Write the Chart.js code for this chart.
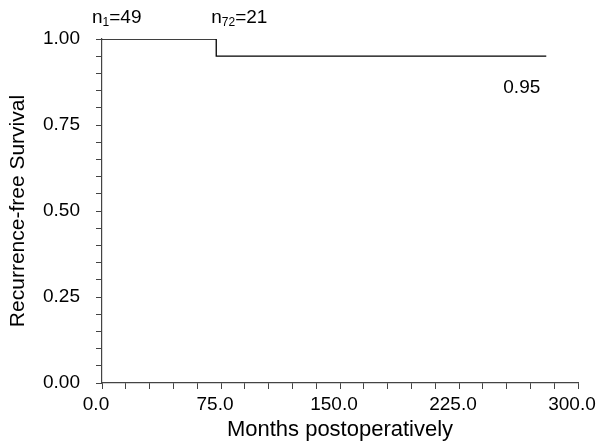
<!DOCTYPE html>
<html>
<head>
<meta charset="utf-8">
<script src="https://cdn.jsdelivr.net/npm/chart.js@4.4.1/dist/chart.umd.min.js"></script>
<style>
  html, body { margin: 0; padding: 0; background: #fff; }
  #wrap { width: 596px; height: 446px; }
</style>
</head>
<body>
<div id="wrap"><canvas id="km"></canvas></div>
<script>
// Kaplan-Meier curve, months vs recurrence-free survival
var months = [0, 72, 280];
var survival = [1.00, 0.95, 0.95];
var xTickLabels = [0, 75, 150, 225, 300];
var yTickLabels = [0, 0.25, 0.5, 0.75, 1.0];
// numbers at risk, shown above the plot
var atRiskMonth = [0, 72];
var atRiskSub = ["1", "72"];
var atRiskN = [49, 21];
var finalLabel = "0.95";

var fontFam = "'Liberation Sans', Arial, sans-serif";

var labelsPlugin = {
    id: "kmLabels",
    afterDraw: function(chart) {
        var ctx = chart.ctx;
        var xs = chart.scales.x, ys = chart.scales.y;
        ctx.save();
        ctx.fillStyle = "#000";
        ctx.textBaseline = "alphabetic";
        ctx.textAlign = "left";
        for (var i = 0; i < atRiskMonth.length; i++) {
            var px = xs.getPixelForValue(atRiskMonth[i]) - (i == 0 ? 10 : 5);
            var py = 23;
            ctx.font = "19px " + fontFam;
            ctx.fillText("n", px, py);
            px += ctx.measureText("n").width;
            ctx.font = "12px " + fontFam;
            ctx.fillText(atRiskSub[i], px, py + 3);
            px += ctx.measureText(atRiskSub[i]).width;
            ctx.font = "19px " + fontFam;
            ctx.fillText("=" + atRiskN[i], px, py);
        }
        // final survival estimate
        ctx.textAlign = "right";
        ctx.font = "19px " + fontFam;
        var last = months.length - 1;
        ctx.fillText(finalLabel, xs.getPixelForValue(months[last]) - 6, ys.getPixelForValue(survival[last]) + 37);
        ctx.restore();
    }
};

var ctx = document.getElementById("km").getContext("2d");
var myChart = new Chart(ctx, {
    type: "line",
    data: {
        datasets: [{
            data: months.map(function(m, i) { return { x: m, y: survival[i] }; }),
            borderColor: "#000",
            borderWidth: 1.3,
            stepped: "before",
            pointRadius: 0,
            fill: false
        }]
    },
    options: {
        responsive: true,
        maintainAspectRatio: false,
        animation: false,
        layout: { padding: { top: 39, right: 18, left: 0, bottom: 0 } },
        plugins: {
            legend: { display: false },
            title: { display: false },
            tooltip: { enabled: false }
        },
        scales: {
            x: {
                type: "linear",
                min: 0,
                max: 300,
                afterFit: function(s) { s.height = 63; s.paddingRight = 0; s.paddingLeft = 0; },
                grid: { drawOnChartArea: false, drawTicks: true, tickLength: 6, color: "#444" },
                border: { display: true, color: "#444", width: 1.2 },
                ticks: {
                    stepSize: 15,
                    autoSkip: false,
                    maxRotation: 0,
                    padding: 4,
                    labelOffset: -6,
                    color: "#000",
                    font: { family: fontFam, size: 19 },
                    callback: function(v) {
                        return xTickLabels.indexOf(v) >= 0 ? v.toFixed(1) : "";
                    }
                },
                title: {
                    display: true,
                    text: "Months postoperatively",
                    color: "#000",
                    font: { family: fontFam, size: 22 },
                    padding: { top: 0, bottom: 3 }
                }
            },
            y: {
                min: 0,
                max: 1,
                afterFit: function(s) { s.width = 102; },
                grid: { drawOnChartArea: false, drawTicks: true, tickLength: 6, color: "#444" },
                border: { display: true, color: "#444", width: 1.2 },
                ticks: {
                    stepSize: 0.05,
                    autoSkip: false,
                    padding: 16,
                    color: "#000",
                    font: { family: fontFam, size: 19 },
                    callback: function(v) {
                        var r = Math.round(v * 100) / 100;
                        return yTickLabels.indexOf(r) >= 0 ? r.toFixed(2) : "";
                    }
                },
                title: {
                    display: true,
                    text: "Recurrence-free Survival",
                    color: "#000",
                    font: { family: fontFam, size: 21 },
                    padding: { top: 6, bottom: 0 }
                }
            }
        }
    },
    plugins: [labelsPlugin]
});
</script>
</body>
</html>
